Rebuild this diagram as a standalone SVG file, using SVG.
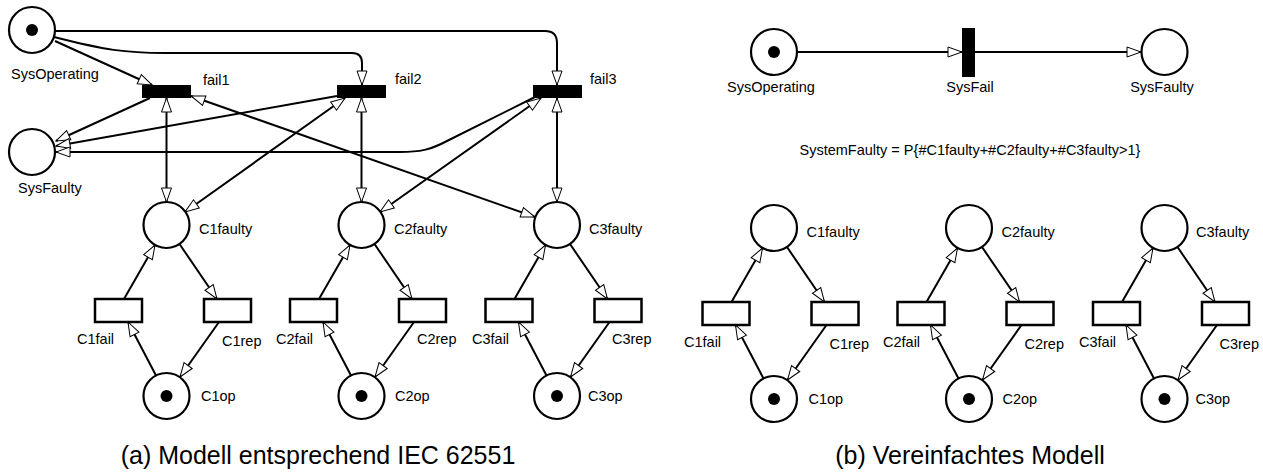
<svg xmlns="http://www.w3.org/2000/svg" width="1263" height="473" viewBox="0 0 1263 473">
<defs>
<marker id="arr" markerUnits="userSpaceOnUse" markerWidth="16" markerHeight="12" refX="14" refY="5" orient="auto-start-reverse" overflow="visible">
<path d="M0,0 L14,5 L0,10 Z" fill="#fff" stroke="#000" stroke-width="1"/>
</marker>
<style>
.pl{fill:#fff;stroke:#000;stroke-width:2.2}
.tk{fill:#000}
.tb{fill:#000;stroke:none}
.tw{fill:#fff;stroke:#000;stroke-width:2.5}
.a{fill:none;stroke:#000;stroke-width:2;marker-end:url(#arr)}
.b{fill:none;stroke:#000;stroke-width:2;marker-start:url(#arr);marker-end:url(#arr)}
text{font-family:"Liberation Sans",Arial,sans-serif;font-size:14.5px;fill:#000}
.cap{font-size:25px;text-anchor:middle}
.m{text-anchor:middle}
</style>
</defs>
<rect width="1263" height="473" fill="#fff"/>

<g id="connectors">
<path class="a" d="M55,41 L152,85"/>
<path class="a" d="M54,37 C105,50 125,53 165,53 L352,53 Q362,53 362,63 L362,85"/>
<path class="a" d="M55,31 L545,31 Q557,31 557,43 L557,85"/>
<path class="a" d="M150,98 L56,141"/>
<path class="a" d="M337,96 L56,146"/>
<path class="a" d="M535,97 L447,141 C430,150 420,152 400,152 L56,152"/>
<path class="b" d="M166.5,98 L166.5,202"/>
<path class="b" d="M361.5,98 L361.5,202"/>
<path class="b" d="M557,98 L557,202"/>
<path class="b" d="M191,96 L535,217"/>
<path class="b" d="M345,98 L185,212"/>
<path class="b" d="M541,98 L380,212"/>
<path class="a" d="M124,299 L155,245"/>
<path class="a" d="M179.5,244 L217,299"/>
<path class="a" d="M219,322 L180,377"/>
<path class="a" d="M156,375.5 L128,322"/>
<path class="a" d="M319,299 L350,245"/>
<path class="a" d="M374.5,244 L412,299"/>
<path class="a" d="M414,322 L375,377"/>
<path class="a" d="M351,375.5 L323,322"/>
<path class="a" d="M514.5,299 L545.5,245"/>
<path class="a" d="M570,244 L607.5,299"/>
<path class="a" d="M609.5,322 L570.5,377"/>
<path class="a" d="M546.5,375.5 L518.5,322"/>
<path class="a" d="M797,52 L962,52"/>
<path class="a" d="M975,52 L1141,52"/>
<path class="a" d="M731.5,302 L762.5,248"/>
<path class="a" d="M787,247 L824.5,302"/>
<path class="a" d="M826.5,325 L787.5,380"/>
<path class="a" d="M763.5,378.5 L735.5,325"/>
<path class="a" d="M926.5,302 L957.5,248"/>
<path class="a" d="M982,247 L1019.5,302"/>
<path class="a" d="M1021.5,325 L982.5,380"/>
<path class="a" d="M958.5,378.5 L930.5,325"/>
<path class="a" d="M1122,302 L1153,248"/>
<path class="a" d="M1177.5,247 L1215,302"/>
<path class="a" d="M1217,325 L1178,380"/>
<path class="a" d="M1154,378.5 L1126,325"/>
</g>

<g id="SysOperating"><circle class="pl" cx="32" cy="30" r="23"/><circle class="tk" cx="32" cy="30" r="6"/><text x="11" y="79">SysOperating</text></g>
<g id="SysFaulty"><circle class="pl" cx="32" cy="152" r="23"/><text x="18" y="193">SysFaulty</text></g>
<g id="fail1"><rect class="tb" x="142" y="85" width="49" height="13"/><text x="203" y="85">fail1</text></g>
<g id="fail2"><rect class="tb" x="337" y="85" width="49" height="13"/><text x="395" y="84">fail2</text></g>
<g id="fail3"><rect class="tb" x="533" y="85" width="49" height="13"/><text x="590" y="84">fail3</text></g>

<g id="C1faulty"><circle class="pl" cx="166.5" cy="225" r="23"/><text x="199" y="234">C1faulty</text></g>
<g id="C2faulty"><circle class="pl" cx="361.5" cy="225" r="23"/><text x="394" y="234">C2faulty</text></g>
<g id="C3faulty"><circle class="pl" cx="557" cy="225" r="23"/><text x="589" y="234">C3faulty</text></g>
<g id="C1fail"><rect class="tw" x="95" y="299" width="47" height="23"/><text x="77" y="344">C1fail</text></g>
<g id="C1rep"><rect class="tw" x="204" y="299" width="47" height="23"/><text x="222" y="346">C1rep</text></g>
<g id="C2fail"><rect class="tw" x="290" y="299" width="47" height="23"/><text x="276" y="344">C2fail</text></g>
<g id="C2rep"><rect class="tw" x="399" y="299" width="47" height="23"/><text x="417" y="344">C2rep</text></g>
<g id="C3fail"><rect class="tw" x="485.5" y="299" width="47" height="23"/><text x="472" y="344">C3fail</text></g>
<g id="C3rep"><rect class="tw" x="594.5" y="299" width="47" height="23"/><text x="612" y="344">C3rep</text></g>
<g id="C1op"><circle class="pl" cx="166.5" cy="396" r="23"/><circle class="tk" cx="166.5" cy="396" r="6"/><text x="201" y="401">C1op</text></g>
<g id="C2op"><circle class="pl" cx="361.5" cy="396" r="23"/><circle class="tk" cx="361.5" cy="396" r="6"/><text x="395" y="401">C2op</text></g>
<g id="C3op"><circle class="pl" cx="557" cy="396" r="23"/><circle class="tk" cx="557" cy="396" r="6"/><text x="588" y="401">C3op</text></g>

<g id="R_SysOperating"><circle class="pl" cx="774" cy="52" r="23"/><circle class="tk" cx="774" cy="52" r="6"/><text class="m" x="771" y="92">SysOperating</text></g>
<g id="R_SysFail"><rect class="tb" x="962" y="28" width="13" height="49"/><text class="m" x="970" y="92">SysFail</text></g>
<g id="R_SysFaulty"><circle class="pl" cx="1164.5" cy="52" r="23"/><text class="m" x="1162" y="92">SysFaulty</text></g>
<g id="formula"><text class="m" x="970" y="155">SystemFaulty = P{#C1faulty+#C2faulty+#C3faulty&gt;1}</text></g>

<g id="R_C1faulty"><circle class="pl" cx="774" cy="228" r="23"/><text x="806.5" y="237">C1faulty</text></g>
<g id="R_C2faulty"><circle class="pl" cx="969" cy="228" r="23"/><text x="1001.5" y="237">C2faulty</text></g>
<g id="R_C3faulty"><circle class="pl" cx="1164.5" cy="228" r="23"/><text x="1196" y="237">C3faulty</text></g>
<g id="R_C1fail"><rect class="tw" x="702.5" y="302" width="47" height="23"/><text x="684" y="347">C1fail</text></g>
<g id="R_C1rep"><rect class="tw" x="811.5" y="302" width="47" height="23"/><text x="829.5" y="349">C1rep</text></g>
<g id="R_C2fail"><rect class="tw" x="897.5" y="302" width="47" height="23"/><text x="883" y="347">C2fail</text></g>
<g id="R_C2rep"><rect class="tw" x="1006.5" y="302" width="47" height="23"/><text x="1024.5" y="349">C2rep</text></g>
<g id="R_C3fail"><rect class="tw" x="1093" y="302" width="47" height="23"/><text x="1079" y="347">C3fail</text></g>
<g id="R_C3rep"><rect class="tw" x="1202" y="302" width="47" height="23"/><text x="1219.5" y="349">C3rep</text></g>
<g id="R_C1op"><circle class="pl" cx="774" cy="399" r="23"/><circle class="tk" cx="774" cy="399" r="6"/><text x="808.5" y="404">C1op</text></g>
<g id="R_C2op"><circle class="pl" cx="969" cy="399" r="23"/><circle class="tk" cx="969" cy="399" r="6"/><text x="1002.5" y="404">C2op</text></g>
<g id="R_C3op"><circle class="pl" cx="1164.5" cy="399" r="23"/><circle class="tk" cx="1164.5" cy="399" r="6"/><text x="1195.5" y="404">C3op</text></g>

<g id="captions">
<text class="cap" x="318" y="464">(a) Modell entsprechend IEC 62551</text>
<text class="cap" x="970" y="464">(b) Vereinfachtes Modell</text>
</g>
</svg>
